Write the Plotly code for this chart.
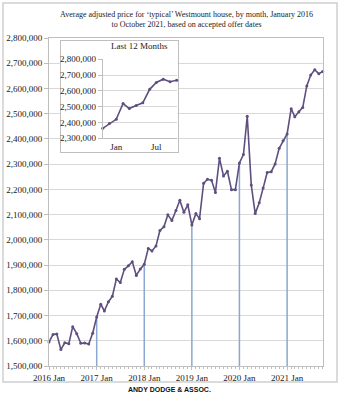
import pandas as pd
import plotly.graph_objects as go

# ---- data ----
months = pd.date_range("2016-01-01", "2021-10-01", freq="MS")
prices = [
    1595000, 1625000, 1627000, 1565000, 1592000, 1588000, 1656000, 1628000, 1590000, 1591000, 1587000, 1630000,
    1694000, 1745000, 1718000, 1755000, 1776000, 1845000, 1831000, 1883000, 1897000, 1913000, 1859000, 1884000,
    1903000, 1966000, 1956000, 1976000, 2037000, 2052000, 2099000, 2077000, 2116000, 2157000, 2109000, 2139000,
    2059000, 2104000, 2084000, 2224000, 2240000, 2236000, 2188000, 2323000, 2253000, 2272000, 2199000, 2199000,
    2305000, 2338000, 2490000, 2217000, 2104000, 2147000, 2205000, 2267000, 2270000, 2301000, 2363000, 2393000,
    2420000, 2520000, 2488000, 2508000, 2525000, 2610000, 2653000, 2674000, 2658000, 2667000,
]
main_tick_dates = ["2016-01-01", "2017-01-01", "2018-01-01", "2019-01-01", "2020-01-01", "2021-01-01"]
main_tick_text = ["2016 Jan", "2017 Jan", "2018 Jan", "2019 Jan", "2020 Jan", "2021 Jan"]
drop_years = [2017, 2018, 2019, 2020, 2021]
inset_tick_dates = ["2021-01-01", "2021-07-01"]
inset_tick_text = ["Jan", "Jul"]
title_text = ("Average adjusted price for \u2018typical\u2019 Westmount house, by month, January 2016"
              "<br>to October 2021, based on accepted offer dates")
inset_title = "Last 12 Months"
footer = "ANDY DODGE &amp; ASSOC."

W, H = 343, 396
SERIF = "Liberation Serif"
LINE_C = "#5f4f7f"
DROP_C = "#8aa8d0"
GRID_C = "#d9d9d9"
AXIS_C = "#bfbfbf"
TXT_C = "#222222"

def px(x):
    return x / W

def py(y):
    return 1 - y / H

fig = go.Figure()

# drop lines at each January
dx, dy = [], []
for d, v in zip(months, prices):
    if d.month == 1 and d.year in drop_years:
        dx += [d, d, None]
        dy += [1500000, v, None]
fig.add_trace(go.Scatter(x=dx, y=dy, mode="lines", line=dict(color=DROP_C, width=1.5),
                         hoverinfo="skip", showlegend=False, xaxis="x", yaxis="y"))

# main line
fig.add_trace(go.Scatter(x=months, y=prices, mode="lines+markers",
                         line=dict(color=LINE_C, width=1.6), marker=dict(size=3, color=LINE_C),
                         cliponaxis=False, showlegend=False, xaxis="x", yaxis="y"))

# inset box placeholder (subplot x2y2)
fig.add_trace(go.Scatter(x=[], y=[], showlegend=False, xaxis="x2", yaxis="y2", hoverinfo="skip"))

# inset line
fig.add_trace(go.Scatter(x=months[-12:], y=prices[-12:], mode="lines+markers",
                         line=dict(color=LINE_C, width=1.6), marker=dict(size=3, color=LINE_C),
                         cliponaxis=False, showlegend=False, xaxis="x3", yaxis="y3"))

tickfont = dict(family=SERIF, size=9, color=TXT_C)

fig.update_layout(
    width=W, height=H,
    margin=dict(l=0, r=0, t=0, b=0),
    paper_bgcolor="white", plot_bgcolor="white",
    xaxis=dict(domain=[px(49), px(322.7)], anchor="y", type="date",
               range=[months[0], months[-1]],
               tickvals=main_tick_dates, ticktext=main_tick_text, tickfont=tickfont,
               showgrid=False, showline=True, linecolor=AXIS_C, linewidth=1, mirror=True,
               ticks="outside", ticklen=3, tickcolor=AXIS_C,
               minor=dict(dtick="M1", ticks="outside", ticklen=2, tickcolor=AXIS_C, showgrid=False),
               automargin=False, zeroline=False),
    yaxis=dict(domain=[py(366), py(38)], anchor="x", range=[1500000, 2800000], dtick=100000,
               tickformat=",d", tickfont=tickfont, showgrid=True, gridcolor=GRID_C, gridwidth=1,
               showline=True, linecolor=AXIS_C, linewidth=1, mirror=True,
               ticks="outside", ticklen=4, tickcolor=AXIS_C, automargin=False, zeroline=False),
    xaxis2=dict(domain=[px(61), px(177.5)], anchor="y2", range=[0, 1], visible=True,
                showticklabels=False, ticks="", showgrid=False, zeroline=False,
                showline=True, linecolor=AXIS_C, linewidth=1, mirror=True, automargin=False),
    yaxis2=dict(domain=[py(152), py(40.7)], anchor="x2", range=[0, 1], visible=True,
                showticklabels=False, ticks="", showgrid=False, zeroline=False,
                showline=True, linecolor=AXIS_C, linewidth=1, mirror=True, automargin=False),
    xaxis3=dict(domain=[px(102.7), px(176.7)], anchor="y3", type="date",
                range=[months[-12], months[-1]],
                tickvals=inset_tick_dates, ticktext=inset_tick_text, tickfont=tickfont,
                showgrid=False, showline=True, linecolor=AXIS_C, linewidth=1,
                ticks="", automargin=False, zeroline=False),
    yaxis3=dict(domain=[py(138.3), py(59.3)], anchor="x3", range=[2300000, 2800000], dtick=100000,
                tickformat=",d", tickfont=tickfont, showgrid=True, gridcolor=GRID_C, gridwidth=1,
                showline=True, linecolor=AXIS_C, linewidth=1,
                ticks="outside", ticklen=4, tickcolor=AXIS_C, automargin=False, zeroline=False),
    shapes=[
        dict(type="rect", xref="x2", yref="y2", x0=0, x1=1, y0=0, y1=1,
             fillcolor="white", line=dict(width=0), layer="below"),
        dict(type="rect", xref="paper", yref="paper", x0=px(3), x1=px(337), y0=py(382), y1=py(3),
             line=dict(color="#d0d0d0", width=1.5), fillcolor="rgba(0,0,0,0)", layer="below"),
    ],
    annotations=[
        dict(text=title_text, xref="paper", yref="paper", x=px(186), y=py(19.5),
             xanchor="center", yanchor="middle", showarrow=False,
             font=dict(family=SERIF, size=8, color=TXT_C)),
        dict(text=inset_title, xref="paper", yref="paper", x=px(139.5), y=py(45.5),
             xanchor="center", yanchor="middle", showarrow=False,
             font=dict(family=SERIF, size=9, color=TXT_C)),
        dict(text="<b>" + footer + "</b>", xref="paper", yref="paper", x=px(169), y=py(389),
             xanchor="center", yanchor="middle", showarrow=False,
             font=dict(family="Liberation Sans", size=7, color="#111111")),
    ],
)

fig.write_html("out.html")
